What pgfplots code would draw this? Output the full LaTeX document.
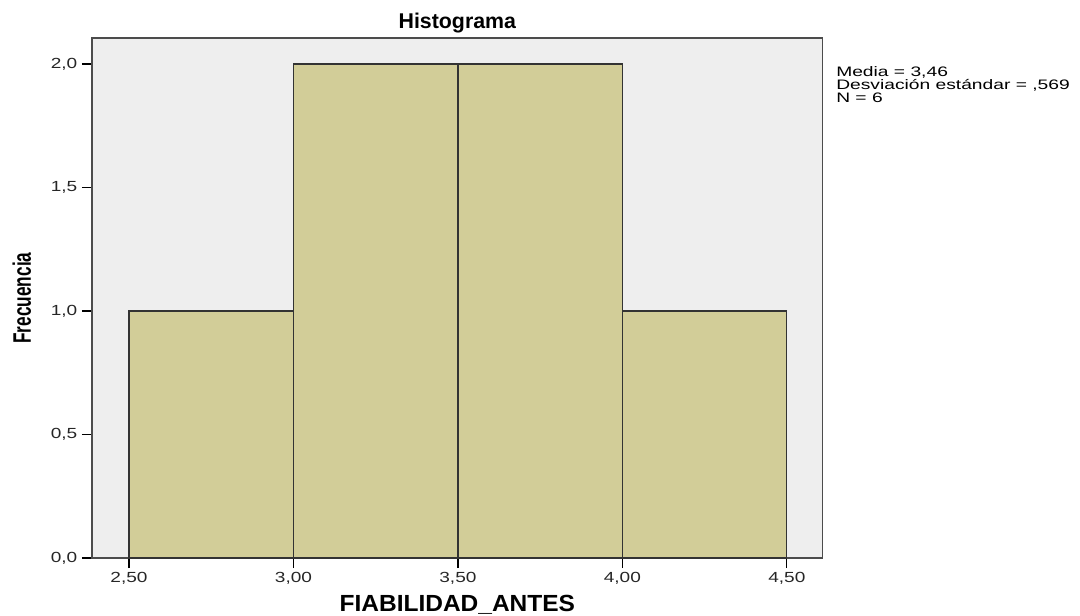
\documentclass[border=0pt]{standalone}
\usepackage{pgfplots}
\pgfplotsset{compat=1.18}
\usepackage{fontspec}
\setmainfont{Liberation Sans}
\newfontfamily\tickfont[FakeStretch=1.3]{Liberation Sans}
\newfontfamily\statfont[FakeStretch=1.4]{Liberation Sans}
\newfontfamily\ylabfont[FakeStretch=0.68]{Liberation Sans}
\newfontfamily\xlabfont[FakeStretch=1.05]{Liberation Sans}
\definecolor{barfill}{HTML}{D2CD98}
\definecolor{bgfill}{HTML}{EEEEEE}
\begin{document}
\begin{tikzpicture}
\begin{axis}[
  scale only axis,
  width=548pt, height=390pt,
  xmin=2.3875, xmax=4.609,
  ymin=0, ymax=2.105,
  axis background/.style={fill=bgfill},
  axis line style={draw=black!70, line width=0.8pt},
  xtick={2.5,3,3.5,4,4.5},
  ytick={0,0.5,1,1.5,2},
  tick align=outside,
  major tick length=7.5pt,
  tick style={black, line width=0.9pt},
  xticklabel style={/pgf/number format/.cd, fixed, fixed zerofill, precision=2, use comma, assume math mode=true},
  yticklabel style={/pgf/number format/.cd, fixed, fixed zerofill, precision=1, use comma, assume math mode=true},
  ticklabel style={font=\tickfont\fontsize{11}{13}\selectfont, text=black!85},
  xtick pos=bottom, ytick pos=left,
  xlabel={\textbf{FIABILIDAD\_ANTES}},
  xlabel style={font=\xlabfont\fontsize{17.5}{20}\selectfont, at={(axis description cs:0.5,-0.09)}, anchor=center},
  ylabel={\textbf{Frecuencia}},
  ylabel style={font=\ylabfont\fontsize{19}{21}\selectfont, at={(axis description cs:-0.096,0.5)}, anchor=center},
  clip=false,
]
\addplot[ybar interval, fill=barfill, draw=black!80, line width=0.9pt] coordinates {
  (2.5,1) (3.0,2) (3.5,2) (4.0,1) (4.5,1)
};
\node[anchor=base, font=\bfseries\fontsize{16}{18}\selectfont, inner sep=0pt] at (rel axis cs:0.5,1) [yshift=6.75pt] {Histograma};
\node[anchor=north west, align=left, font=\statfont\fontsize{10.3}{9.75}\selectfont, inner sep=0pt] at (rel axis cs:1,1) [xshift=10pt, yshift=-21.5pt] {Media = 3,46\\Desviación estándar = ,569\\N = 6};
\end{axis}
\path (current axis.south west) ++(-69pt,-42.75pt) coordinate (bl);
\path (current axis.south west) ++(741pt,418.5pt) coordinate (tr);
\pgfresetboundingbox
\useasboundingbox (bl) rectangle (tr);
\end{tikzpicture}
\end{document}
